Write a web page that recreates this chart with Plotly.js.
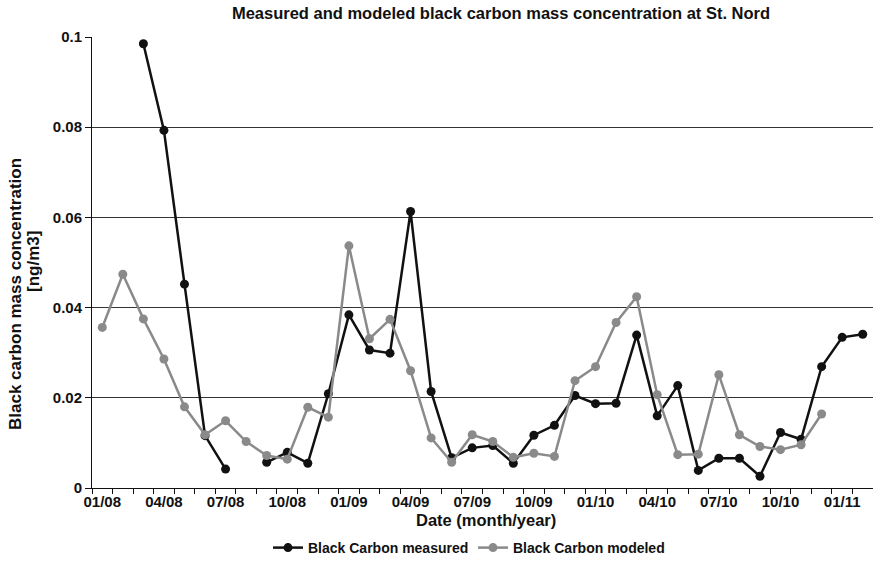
<!DOCTYPE html>
<html>
<head>
<meta charset="utf-8">
<script src="https://cdn.plot.ly/plotly-3.0.1.min.js"></script>
<style>
  html, body { margin: 0; padding: 0; background: #fff; overflow: hidden; }
  #chart { width: 873px; height: 571px; }
</style>
</head>
<body>
<div id="chart"></div>
<script>
// Monthly categories, January 2008 to February 2011
const months = [
  "01/08","02/08","03/08","04/08","05/08","06/08","07/08","08/08","09/08","10/08","11/08","12/08",
  "01/09","02/09","03/09","04/09","05/09","06/09","07/09","08/09","09/09","10/09","11/09","12/09",
  "01/10","02/10","03/10","04/10","05/10","06/10","07/10","08/10","09/10","10/10","11/10","12/10",
  "01/11","02/11"
];

// Quarterly labels shown under the axis
const tickLabels = ["01/08","04/08","07/08","10/08","01/09","04/09","07/09","10/09","01/10","04/10","07/10","10/10","01/11"];

// Measured black carbon (ng/m3); null = no measurement that month
const measured = [
  null, null, 0.0985, 0.0793, 0.0452, 0.0116, 0.0042, null, 0.0057, 0.0079, 0.0055, 0.0209,
  0.0384, 0.0306, 0.0299, 0.0613, 0.0214, 0.0067, 0.0089, 0.0094, 0.0055, 0.0117, 0.0139, 0.0205,
  0.0187, 0.0188, 0.0339, 0.0160, 0.0227, 0.0039, 0.0066, 0.0066, 0.0026, 0.0123, 0.0108, 0.0269,
  0.0334, 0.0341
];

// Modeled black carbon (ng/m3)
const modeled = [
  0.0356, 0.0474, 0.0375, 0.0286, 0.0180, 0.0118, 0.0149, 0.0103, 0.0072, 0.0064, 0.0179, 0.0157,
  0.0537, 0.0331, 0.0374, 0.0260, 0.0111, 0.0057, 0.0118, 0.0103, 0.0068, 0.0077, 0.0070, 0.0238,
  0.0269, 0.0367, 0.0424, 0.0207, 0.0074, 0.0075, 0.0251, 0.0118, 0.0092, 0.0085, 0.0096, 0.0164,
  null, null
];

const FONT = "Liberation Sans, Arial, Helvetica, sans-serif";
const INK = "#111111";

const traces = [
  {
    name: "<b>Black Carbon measured</b>",
    x: months, y: measured,
    type: "scatter", mode: "lines+markers",
    line: { color: INK, width: 2.5 },
    marker: { color: INK, size: 9 },
    connectgaps: false
  },
  {
    name: "<b>Black Carbon modeled</b>",
    x: months, y: modeled,
    type: "scatter", mode: "lines+markers",
    line: { color: "#8a8a8a", width: 2.5 },
    marker: { color: "#8a8a8a", size: 9 },
    connectgaps: false
  }
];

const layout = {
  width: 873, height: 571,
  margin: { l: 92, r: 0, t: 37, b: 83 },
  paper_bgcolor: "#ffffff", plot_bgcolor: "#ffffff",
  font: { family: FONT, color: INK, size: 14 },
  showlegend: true,
  title: {
    text: "<b>Measured and modeled black carbon mass concentration at St. Nord</b>",
    font: { family: FONT, size: 16.5, color: INK },
    x: 501 / 873, xanchor: "center", xref: "container",
    y: 1 - 13 / 571, yanchor: "middle", yref: "container"
  },
  xaxis: {
    type: "category",
    categoryorder: "array", categoryarray: months,
    range: [-0.5, months.length - 0.5],
    tickmode: "array",
    tickvals: months,
    ticktext: months.map(m => tickLabels.includes(m) ? "<b>" + m + "</b>" : ""),
    tickangle: 0,
    tickson: "boundaries",
    ticks: "outside", ticklen: 5, tickwidth: 1, tickcolor: INK,
    tickfont: { family: FONT, size: 15, color: INK },
    showline: true, linecolor: INK, linewidth: 1,
    showgrid: false, zeroline: false,
    automargin: false
  },
  yaxis: {
    range: [0, 0.1],
    dtick: 0.02, tick0: 0,
    tickmode: "linear",
    ticks: "outside", ticklen: 6, tickwidth: 1, tickcolor: INK,
    tickprefix: "<b>", ticksuffix: "</b>",
    tickfont: { family: FONT, size: 15, color: INK },
    showline: true, linecolor: INK, linewidth: 1,
    showgrid: true, gridcolor: "#333333", gridwidth: 1,
    zeroline: false,
    automargin: false
  },
  annotations: [
    {
      text: "<b>Date (month/year)</b>",
      xref: "paper", yref: "paper",
      x: (486 - 92) / 781, xanchor: "center",
      y: (488 - 520) / 451, yanchor: "middle",
      showarrow: false,
      font: { family: FONT, size: 16.5, color: INK }
    },
    {
      text: "<b>Black carbon mass concentration</b>",
      xref: "paper", yref: "paper",
      x: (15 - 92) / 781, xanchor: "center",
      y: (488 - 294) / 451, yanchor: "middle",
      textangle: -90,
      showarrow: false,
      font: { family: FONT, size: 17, color: INK }
    },
    {
      text: "<b>[ng/m3]</b>",
      xref: "paper", yref: "paper",
      x: (33 - 92) / 781, xanchor: "center",
      y: (488 - 261) / 451, yanchor: "middle",
      textangle: -90,
      showarrow: false,
      font: { family: FONT, size: 17, color: INK }
    }
  ],
  legend: {
    orientation: "h",
    x: (268 - 92) / 781, xanchor: "left",
    y: (488 - 548) / 451, yanchor: "middle",
    font: { family: FONT, size: 14, color: INK },
    itemwidth: 30,
    entrywidth: 160, entrywidthmode: "pixels",
    bgcolor: "rgba(0,0,0,0)"
  }
};

Plotly.newPlot("chart", traces, layout, { displayModeBar: false, staticPlot: true });
</script>
</body>
</html>
